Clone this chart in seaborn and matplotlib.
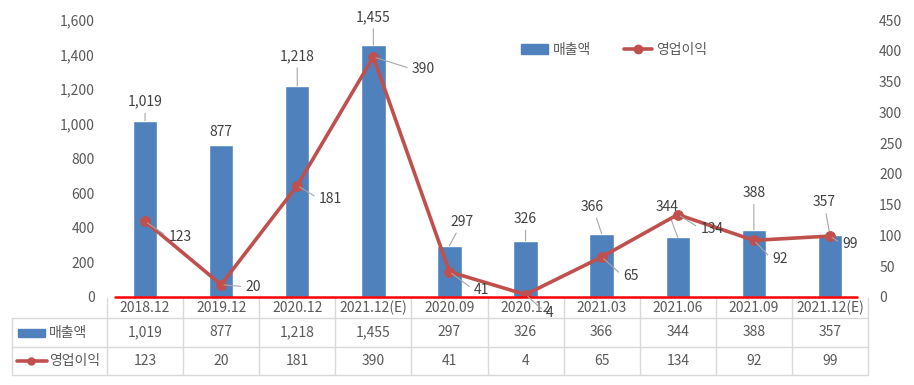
import numpy as np
import pandas as pd
import matplotlib
matplotlib.use('Agg')
import matplotlib.pyplot as plt
import seaborn as sns
from matplotlib.patches import Patch
from matplotlib.lines import Line2D
from matplotlib.ticker import FuncFormatter, MultipleLocator

sns.set_style('white')
plt.rcParams['font.family'] = ['Noto Sans CJK KR', 'DejaVu Sans']

periods = ['2018.12', '2019.12', '2020.12', '2021.12(E)', '2020.09',
           '2020.12', '2021.03', '2021.06', '2021.09', '2021.12(E)']
sales = [1019, 877, 1218, 1455, 297, 326, 366, 344, 388, 357]
op_profit = [123, 20, 181, 390, 41, 4, 65, 134, 92, 99]

bar_name = '매출액'
line_name = '영업이익'

bar_color = '#4F81BD'
line_color = '#C0504D'
text_color = '#404040'
tick_color = '#595959'
grid_color = '#D9D9D9'
leader_color = '#A6A6A6'

# label offsets in pixels (layout only)
bar_off = [(0, 19), (0, 13), (0, 30), (0, 28), (13, 24), (0, 22), (-9, 27), (-11, 30), (0, 37), (-6, 33)]
bar_leader = [True, False, True, True, True, True, True, True, True, True]
line_off = [(35, -16), (32, -2), (33, -13), (50, -12), (32, -18), (24, -18), (29, -19), (34, -14), (26, -19), (20, -8)]

df = pd.DataFrame({'period': [f'{i}' for i in range(len(periods))], 'sales': sales, 'op': op_profit})
x = np.arange(len(periods))

W, H = 914, 385
fig = plt.figure(figsize=(W / 100, H / 100), dpi=100)

left, right, bottom, top = 107, 868, 297, 20
ax = fig.add_axes([left / W, (H - bottom) / H, (right - left) / W, (bottom - top) / H])
sns.barplot(data=df, x='period', y='sales', color=bar_color, width=0.32,
            saturation=1, ax=ax, zorder=2)
ax.set_xlim(-0.5, len(periods) - 0.5)
ax.set_ylim(0, 1600)
ax.yaxis.set_major_locator(MultipleLocator(200))
ax.yaxis.set_major_formatter(FuncFormatter(lambda v, p: f'{int(v):,}'))
ax.set_xticks([])
ax.set_xlabel('')
ax.set_ylabel('')
for s in ax.spines.values():
    s.set_visible(False)
ax.tick_params(axis='y', length=0, labelsize=10, labelcolor=tick_color, pad=9)

ax2 = ax.twinx()
sns.lineplot(x=x, y=op_profit, ax=ax2, color=line_color, lw=2.6, marker='o',
             markersize=7, markeredgecolor=line_color, zorder=3)
ax2.set_ylim(0, 450)
ax2.set_xlim(-0.5, len(periods) - 0.5)
ax2.yaxis.set_major_locator(MultipleLocator(50))
for s in ax2.spines.values():
    s.set_visible(False)
ax2.tick_params(axis='y', length=0, labelsize=10, labelcolor=tick_color, pad=8)
ax2.axhline(0, xmin=0.01, xmax=0.985, color='#FF0000', lw=1.8, zorder=5, clip_on=False)

for i, v in enumerate(sales):
    ap = dict(arrowstyle='-', color=leader_color, lw=0.8, shrinkA=1, shrinkB=0) if bar_leader[i] else None
    ax.annotate(f'{v:,}', xy=(i, v), xytext=bar_off[i], textcoords='offset pixels',
                ha='center', va='center', fontsize=10, color=text_color, arrowprops=ap)

for i, v in enumerate(op_profit):
    ax2.annotate(f'{v:,}', xy=(i, v), xytext=line_off[i], textcoords='offset pixels',
                 ha='center', va='center', fontsize=10, color=text_color, zorder=6,
                 arrowprops=dict(arrowstyle='-', color=leader_color, lw=0.8,
                                 shrinkA=1, shrinkB=2, relpos=(0, 0.5)))

handles = [Patch(color=bar_color, label=bar_name),
           Line2D([0], [0], color=line_color, lw=2.6, marker='o', markersize=6, label=line_name)]
ax2.legend(handles=handles, ncol=2, frameon=False, loc='center left',
           bbox_to_anchor=((508 - left) / (right - left), (bottom - 50) / (bottom - top)),
           fontsize=10, handlelength=2.0, columnspacing=2.4, handletextpad=0.3,
           labelcolor=tick_color)

# data table below the plot
tab = fig.add_axes([0, 0, 1, 1], zorder=-1)
tab.set_xlim(0, W)
tab.set_ylim(H, 0)
tab.axis('off')
col_w = (right - left) / len(periods)
row_y = [298, 318, 347, 375]
tab_left = 12
for k in range(len(periods) + 1):
    xx = left + k * col_w
    tab.plot([xx, xx], [row_y[0], row_y[-1]], color=grid_color, lw=1)
tab.plot([tab_left, tab_left], [row_y[1], row_y[-1]], color=grid_color, lw=1)
for yy in row_y[1:]:
    tab.plot([tab_left, right], [yy, yy], color=grid_color, lw=1)

for i, p in enumerate(periods):
    cx = left + (i + 0.5) * col_w
    tab.text(cx, (row_y[0] + row_y[1]) / 2, p, ha='center', va='center', fontsize=10, color=tick_color)
    tab.text(cx, (row_y[1] + row_y[2]) / 2, f'{sales[i]:,}', ha='center', va='center', fontsize=10, color=tick_color)
    tab.text(cx, (row_y[2] + row_y[3]) / 2, f'{op_profit[i]:,}', ha='center', va='center', fontsize=10, color=tick_color)

ym1 = (row_y[1] + row_y[2]) / 2
ym2 = (row_y[2] + row_y[3]) / 2
tab.add_patch(plt.Rectangle((18, ym1 - 4), 27, 8, color=bar_color))
tab.text(49, ym1, bar_name, ha='left', va='center', fontsize=10, color=tick_color)
tab.plot([17, 47], [ym2, ym2], color=line_color, lw=2.6)
tab.plot([31], [ym2], 'o', color=line_color, markersize=5)
tab.text(49, ym2, line_name, ha='left', va='center', fontsize=10, color=tick_color)

fig.savefig('out.png', dpi=100)
